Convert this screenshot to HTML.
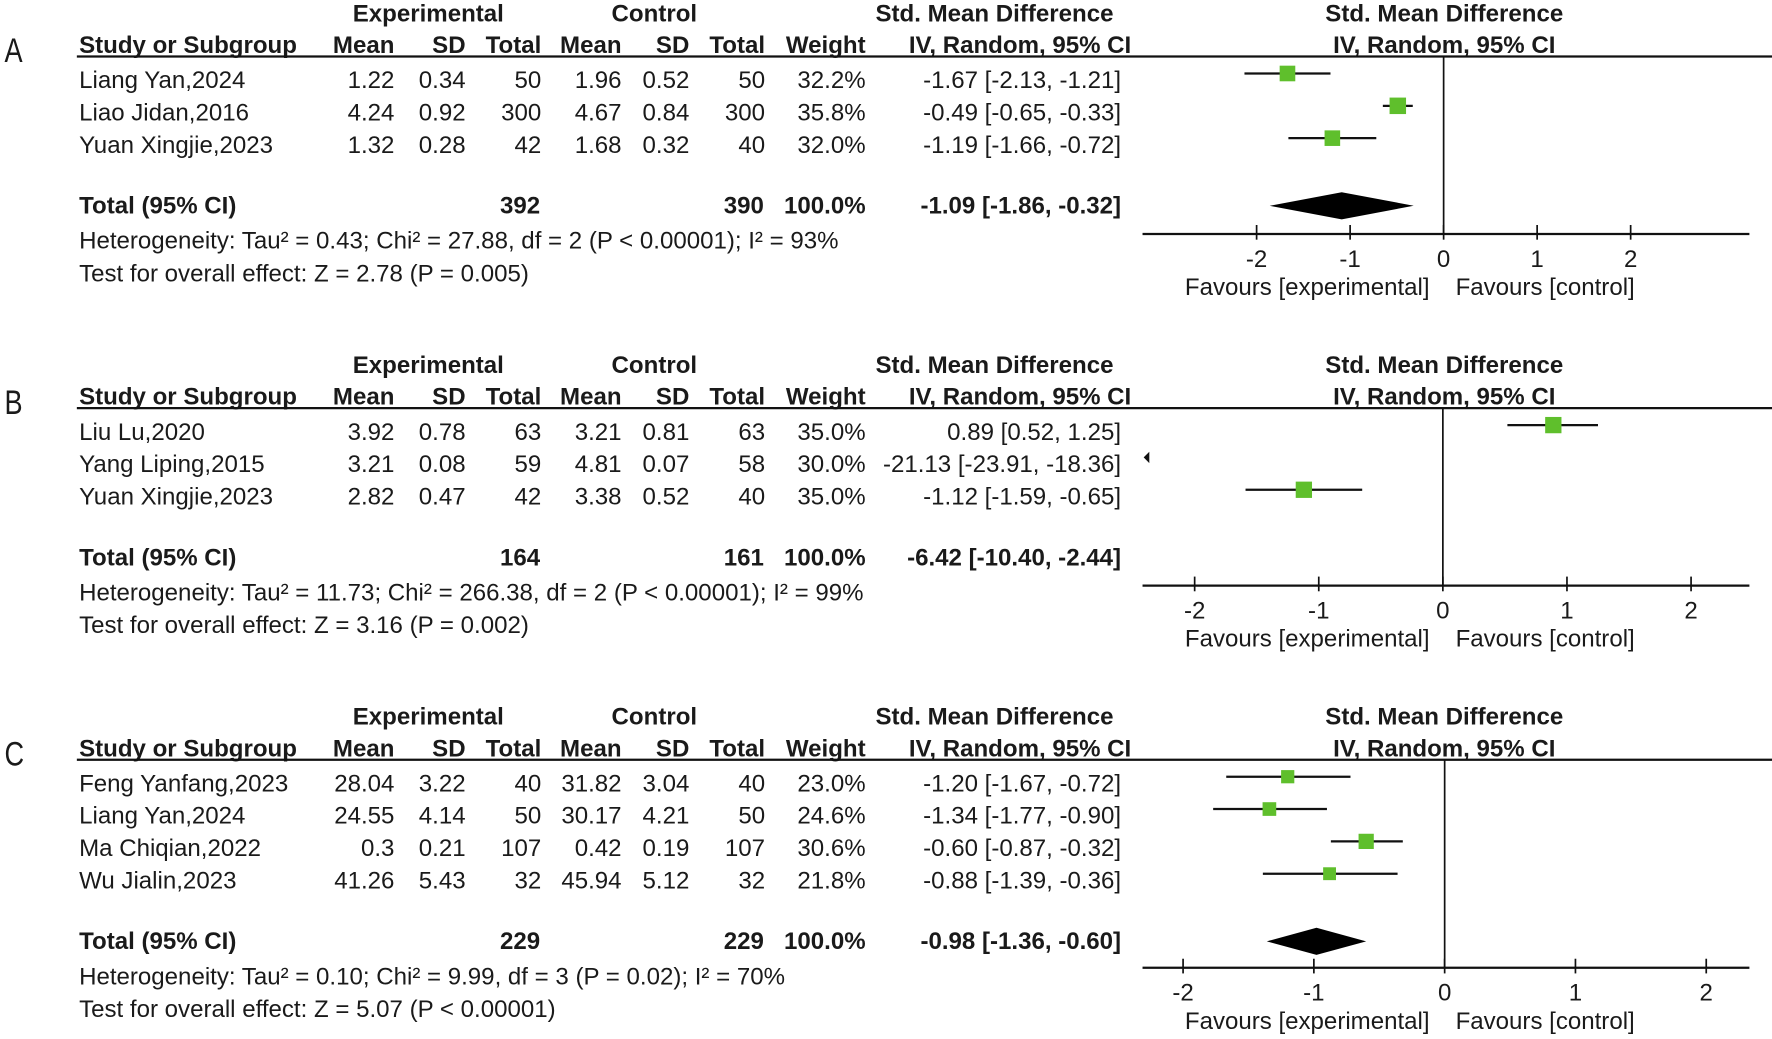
<!DOCTYPE html>
<html><head><meta charset="utf-8"><style>
html,body{margin:0;padding:0;background:#fff;}
svg{display:block;}
text{font-family:"Liberation Sans",Arial,sans-serif;fill:#1a1a1a;}
</style></head><body>
<svg id="chart" width="1772" height="1039" viewBox="0 0 1568 919" preserveAspectRatio="none" xmlns="http://www.w3.org/2000/svg"></svg>
<script>
// ---- Panel A data ----
const aStudies = ["Liang Yan,2024","Liao Jidan,2016","Yuan Xingjie,2023"];
const aExpMean = ["1.22","4.24","1.32"], aExpSD = ["0.34","0.92","0.28"], aExpN = [50,300,42];
const aCtlMean = ["1.96","4.67","1.68"], aCtlSD = ["0.52","0.84","0.32"], aCtlN = [50,300,40];
const aWeight = [32.2,35.8,32.0];
const aSmd = [-1.67,-0.49,-1.19], aLo = [-2.13,-0.65,-1.66], aHi = [-1.21,-0.33,-0.72];
const aTotal = [-1.09,-1.86,-0.32];
const aTotN = [392,390];
const aHet = "Heterogeneity: Tau² = 0.43; Chi² = 27.88, df = 2 (P < 0.00001); I² = 93%";
const aTest = "Test for overall effect: Z = 2.78 (P = 0.005)";
const aTicks = [-2,-1,0,1,2];
const aRange = [-3.22,3.27];
// ---- Panel B data ----
const bStudies = ["Liu Lu,2020","Yang Liping,2015","Yuan Xingjie,2023"];
const bExpMean = ["3.92","3.21","2.82"], bExpSD = ["0.78","0.08","0.47"], bExpN = [63,59,42];
const bCtlMean = ["3.21","4.81","3.38"], bCtlSD = ["0.81","0.07","0.52"], bCtlN = [63,58,40];
const bWeight = [35.0,30.0,35.0];
const bSmd = [0.89,-21.13,-1.12], bLo = [0.52,-23.91,-1.59], bHi = [1.25,-18.36,-0.65];
const bTotal = [-6.42,-10.40,-2.44];
const bTotN = [164,161];
const bHet = "Heterogeneity: Tau² = 11.73; Chi² = 266.38, df = 2 (P < 0.00001); I² = 99%";
const bTest = "Test for overall effect: Z = 3.16 (P = 0.002)";
const bTicks = [-2,-1,0,1,2];
const bRange = [-2.42,2.47];
// ---- Panel C data ----
const cStudies = ["Feng Yanfang,2023","Liang Yan,2024","Ma Chiqian,2022","Wu Jialin,2023"];
const cExpMean = ["28.04","24.55","0.3","41.26"], cExpSD = ["3.22","4.14","0.21","5.43"], cExpN = [40,50,107,32];
const cCtlMean = ["31.82","30.17","0.42","45.94"], cCtlSD = ["3.04","4.21","0.19","5.12"], cCtlN = [40,50,107,32];
const cWeight = [23.0,24.6,30.6,21.8];
const cSmd = [-1.20,-1.34,-0.60,-0.88], cLo = [-1.67,-1.77,-0.87,-1.39], cHi = [-0.72,-0.90,-0.32,-0.36];
const cTotal = [-0.98,-1.36,-0.60];
const cTotN = [229,229];
const cHet = "Heterogeneity: Tau² = 0.10; Chi² = 9.99, df = 3 (P = 0.02); I² = 70%";
const cTest = "Test for overall effect: Z = 5.07 (P < 0.00001)";
const cTicks = [-2,-1,0,1,2];
const cRange = [-2.31,2.33];

const svg = document.getElementById('chart');
const NS = "http://www.w3.org/2000/svg";
const FS = 21.3;
function mk(tag, attrs, parent){const e=document.createElementNS(NS,tag);for(const k in attrs)e.setAttribute(k,attrs[k]);(parent||svg).appendChild(e);return e;}
function txt(g,x,y,s,anchor,bold,size){const t=mk('text',{x:x,y:y,'text-anchor':anchor||'start','font-size':size||FS},g);if(bold)t.setAttribute('font-weight','bold');t.textContent=s;return t;}
const f2 = v => v.toFixed(2);

function panel(label, top, studies, em, esd, en, cm, csd, cn, w, smd, lo, hi, tot, totN, het, test, ticks, range){
  const g = mk('g',{});
  
  
  const axL=1011, axR=1548;
  const sx = v => axL + (v-range[0])/(range[1]-range[0])*(axR-axL);
  const extra = (studies.length-3)*28.6;
  const lab = txt(g,4,top+55,label,'start',false,30);
  lab.setAttribute('transform','translate(4,0) scale(0.8,1) translate(-4,0)');
  
  
  // headers
  txt(g,379,top+19,'Experimental','middle',true);
  txt(g,579,top+19,'Control','middle',true);
  txt(g,880,top+19,'Std. Mean Difference','middle',true);
  txt(g,1278,top+19,'Std. Mean Difference','middle',true);
  const hy = top+47;
  txt(g,70,hy,'Study or Subgroup','start',true);
  txt(g,349,hy,'Mean','end',true); txt(g,412,hy,'SD','end',true); txt(g,479,hy,'Total','end',true);
  txt(g,550,hy,'Mean','end',true); txt(g,610,hy,'SD','end',true); txt(g,677,hy,'Total','end',true);
  txt(g,766,hy,'Weight','end',true); txt(g,1001,hy,'IV, Random, 95% CI','end',true);
  txt(g,1278,hy,'IV, Random, 95% CI','middle',true);
  const hl = mk('line',{x1:68,x2:1568,y1:top+50,y2:top+50,stroke:'#111','stroke-width':2},g);
  
  
  // rows
  const rowY = i => top+78+i*28.6;
  studies.forEach((s,i)=>{
    const y=rowY(i);
    const r = mk('g',{},g);
    
    
    txt(r,70,y,s); txt(r,349,y,em[i],'end'); txt(r,412,y,esd[i],'end'); txt(r,479,y,String(en[i]),'end');
    txt(r,550,y,cm[i],'end'); txt(r,610,y,csd[i],'end'); txt(r,677,y,String(cn[i]),'end');
    txt(r,766,y,w[i].toFixed(1)+'%','end');
    txt(r,992,y,f2(smd[i])+' ['+f2(lo[i])+', '+f2(hi[i])+']','end');
    const cy=y-13;
    if(hi[i] < range[0]){
      const ar = mk('polygon',{points:(axL+1)+','+cy+' '+(axL+6)+','+(cy-5)+' '+(axL+6)+','+(cy+5),fill:'#111'},r);
      
      
    } else {
      const ci = mk('line',{x1:Math.max(sx(lo[i]),axL),x2:Math.min(sx(hi[i]),axR),y1:cy,y2:cy,stroke:'#111','stroke-width':2},r);
      
      
      const sz = 14*Math.sqrt(w[i]/33);
      const sq = mk('rect',{x:sx(smd[i])-sz/2,y:cy-sz/2,width:sz,height:sz,fill:'#5fbf2c'},r);
      
      
    }
  });
  const ty = top+189+extra;
  txt(g,70,ty,'Total (95% CI)','start',true);
  txt(g,478,ty,String(totN[0]),'end',true);
  txt(g,676,ty,String(totN[1]),'end',true);
  txt(g,766,ty,'100.0%','end',true);
  txt(g,992,ty,f2(tot[0])+' ['+f2(tot[1])+', '+f2(tot[2])+']','end',true);
  if(tot[1] >= range[0]){
    const dy = ty-7;
    const d = mk('polygon',{points:sx(tot[1])+','+dy+' '+sx(tot[0])+','+(dy-12)+' '+sx(tot[2])+','+dy+' '+sx(tot[0])+','+(dy+12),fill:'#000'},g);
    
    
  }
  txt(g,70,top+220+extra,het); txt(g,70,top+249+extra,test);
  // axis
  const ay = top + 207 + (studies.length-3)*27;
  const zl = mk('line',{x1:sx(0),x2:sx(0),y1:top+50,y2:ay,stroke:'#111','stroke-width':1.5},g);
  
  
  const ax = mk('line',{x1:axL,x2:axR,y1:ay,y2:ay,stroke:'#111','stroke-width':2},g);
  
  
  ticks.forEach(t=>{
    const tk = mk('line',{x1:sx(t),x2:sx(t),y1:ay-8,y2:ay+5,stroke:'#111','stroke-width':1.5},g);
    
    
    txt(g,sx(t),ay+29,String(t),'middle');
  });
  txt(g,1265,ay+54,'Favours [experimental]','end');
  txt(g,1288,ay+54,'Favours [control]','start');
}
panel('A',0,aStudies,aExpMean,aExpSD,aExpN,aCtlMean,aCtlSD,aCtlN,aWeight,aSmd,aLo,aHi,aTotal,aTotN,aHet,aTest,aTicks,aRange);
panel('B',311,bStudies,bExpMean,bExpSD,bExpN,bCtlMean,bCtlSD,bCtlN,bWeight,bSmd,bLo,bHi,bTotal,bTotN,bHet,bTest,bTicks,bRange);
panel('C',622,cStudies,cExpMean,cExpSD,cExpN,cCtlMean,cCtlSD,cCtlN,cWeight,cSmd,cLo,cHi,cTotal,cTotN,cHet,cTest,cTicks,cRange);
</script>
</body></html>
